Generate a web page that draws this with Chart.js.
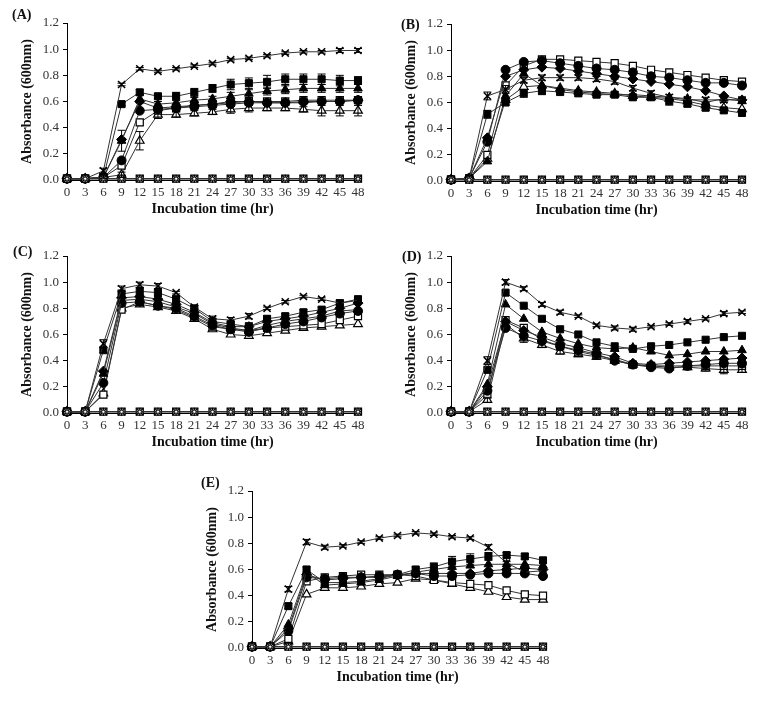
<!DOCTYPE html>
<html>
<head>
<meta charset="utf-8">
<script src="https://cdn.jsdelivr.net/npm/chart.js@4.4.1/dist/chart.umd.min.js"></script>
<style>
  body { margin: 0; background: #fff; }
  #page { position: relative; width: 765px; height: 703px; background: #fff; overflow: hidden; }
  canvas { position: absolute; }
  .lbl { position: absolute; font: bold 14px 'Liberation Serif', serif; color: #111; line-height: 14px; }
</style>
</head>
<body>
<div id="page">
  <canvas id="chartA" width="380" height="230" style="left:0px;top:0px"></canvas>
  <canvas id="chartB" width="380" height="230" style="left:384px;top:1px"></canvas>
  <canvas id="chartC" width="380" height="230" style="left:0px;top:233px"></canvas>
  <canvas id="chartD" width="380" height="230" style="left:384px;top:233px"></canvas>
  <canvas id="chartE" width="380" height="230" style="left:185px;top:468px"></canvas>
  <div class="lbl" style="left:12px;top:8px">(A)</div>
  <div class="lbl" style="left:401px;top:18px">(B)</div>
  <div class="lbl" style="left:13px;top:245px">(C)</div>
  <div class="lbl" style="left:402px;top:250px">(D)</div>
  <div class="lbl" style="left:201px;top:476px">(E)</div>
</div>
<script>
let hours = ['0', '3', '6', '9', '12', '15', '18', '21', '24', '27', '30', '33', '36', '39', '42', '45', '48'];
let yTicks = [0, 0.2, 0.4, 0.6, 0.8, 1.0, 1.2];

// control lines sitting on the baseline in every panel
let zeroLine = [0.01, 0.01, 0.01, 0.01, 0.01, 0.01, 0.01, 0.01, 0.01, 0.01, 0.01, 0.01, 0.01, 0.01, 0.01, 0.01, 0.01];

// (A)
let aCross = [0.01, 0.01, 0.07, 0.73, 0.85, 0.83, 0.85, 0.87, 0.89, 0.92, 0.93, 0.95, 0.97, 0.98, 0.98, 0.99, 0.99];
let aSquare = [0.01, 0.01, 0.02, 0.58, 0.67, 0.64, 0.64, 0.67, 0.70, 0.73, 0.74, 0.75, 0.77, 0.77, 0.77, 0.76, 0.76];
let aTriangle = [0.01, 0.01, 0.02, 0.30, 0.62, 0.58, 0.59, 0.61, 0.62, 0.64, 0.66, 0.68, 0.69, 0.70, 0.70, 0.70, 0.70];
let aDiamond = [0.01, 0.01, 0.02, 0.31, 0.60, 0.55, 0.56, 0.57, 0.58, 0.60, 0.60, 0.59, 0.59, 0.59, 0.60, 0.60, 0.61];
let aCircle = [0.01, 0.01, 0.02, 0.15, 0.53, 0.54, 0.55, 0.56, 0.57, 0.58, 0.59, 0.59, 0.59, 0.60, 0.60, 0.60, 0.61];
let aOpenSquare = [0.01, 0.01, 0.02, 0.11, 0.44, 0.53, 0.55, 0.57, 0.58, 0.59, 0.60, 0.60, 0.60, 0.61, 0.61, 0.61, 0.61];
let aOpenTriangle = [0.01, 0.01, 0.02, 0.04, 0.30, 0.50, 0.50, 0.51, 0.52, 0.54, 0.55, 0.55, 0.55, 0.54, 0.53, 0.53, 0.53];
let aCrossErr = [0, 0, 0.02, 0.01, 0.01, 0.01, 0.01, 0.01, 0.01, 0.01, 0.01, 0.01, 0.01, 0.01, 0.01, 0.015, 0.015];
let aSquareErr = [0, 0, 0, 0.01, 0.02, 0.02, 0.03, 0.03, 0.03, 0.04, 0.04, 0.05, 0.04, 0.04, 0.04, 0.04, 0.03];
let aTriangleErr = [0, 0, 0, 0.08, 0.03, 0.02, 0.02, 0.02, 0.02, 0.03, 0.03, 0.03, 0.03, 0.03, 0.03, 0.03, 0.03];
let aOpenTriangleErr = [0, 0, 0.01, 0.02, 0.07, 0.03, 0.02, 0.02, 0.02, 0.03, 0.03, 0.02, 0.02, 0.02, 0.04, 0.04, 0.04];

// (B)
let bCross = [0.01, 0.02, 0.65, 0.70, 0.77, 0.79, 0.79, 0.79, 0.78, 0.76, 0.71, 0.67, 0.64, 0.62, 0.62, 0.62, 0.62];
let bSquare = [0.01, 0.02, 0.51, 0.60, 0.67, 0.69, 0.68, 0.67, 0.66, 0.66, 0.64, 0.64, 0.61, 0.59, 0.56, 0.54, 0.52];
let bTriangle = [0.01, 0.02, 0.15, 0.65, 0.82, 0.73, 0.70, 0.68, 0.67, 0.66, 0.66, 0.65, 0.64, 0.63, 0.60, 0.63, 0.61];
let bDiamond = [0.01, 0.02, 0.33, 0.80, 0.85, 0.87, 0.86, 0.84, 0.82, 0.80, 0.78, 0.76, 0.74, 0.72, 0.69, 0.65, 0.62];
let bCircle = [0.01, 0.02, 0.30, 0.85, 0.91, 0.92, 0.90, 0.88, 0.86, 0.85, 0.83, 0.80, 0.79, 0.77, 0.75, 0.75, 0.73];
let bOpenSquare = [0.01, 0.02, 0.20, 0.73, 0.88, 0.93, 0.93, 0.92, 0.91, 0.90, 0.88, 0.85, 0.83, 0.81, 0.79, 0.77, 0.76];
let bOpenTriangle = [0.01, 0.02, 0.17, 0.62, 0.72, 0.73, 0.71, 0.69, 0.68, 0.67, 0.65, 0.64, 0.63, 0.61, 0.58, 0.56, 0.55];
let bCrossErr = [0, 0, 0.03, 0.03, 0.02, 0.02, 0.02, 0.02, 0.02, 0.02, 0.02, 0.02, 0.02, 0.02, 0.02, 0.02, 0.02];
let bSquareErr = [0, 0, 0.03, 0.02, 0.03, 0.03, 0.02, 0.02, 0.02, 0.02, 0.02, 0.02, 0.03, 0.02, 0.02, 0.02, 0.01];

// (C)
let cCross = [0.01, 0.01, 0.53, 0.95, 0.98, 0.97, 0.92, 0.81, 0.72, 0.71, 0.74, 0.80, 0.85, 0.89, 0.87, 0.84, 0.86];
let cSquare = [0.01, 0.01, 0.48, 0.91, 0.93, 0.92, 0.87, 0.80, 0.70, 0.68, 0.66, 0.72, 0.74, 0.77, 0.79, 0.84, 0.87];
let cTriangle = [0.01, 0.01, 0.30, 0.86, 0.87, 0.85, 0.81, 0.76, 0.68, 0.65, 0.63, 0.67, 0.70, 0.72, 0.74, 0.78, 0.79];
let cDiamond = [0.01, 0.01, 0.32, 0.88, 0.89, 0.87, 0.83, 0.77, 0.69, 0.66, 0.66, 0.70, 0.72, 0.74, 0.77, 0.80, 0.84];
let cCircle = [0.01, 0.01, 0.23, 0.84, 0.85, 0.82, 0.80, 0.74, 0.67, 0.64, 0.62, 0.65, 0.68, 0.70, 0.73, 0.76, 0.78];
let cOpenSquare = [0.01, 0.01, 0.14, 0.79, 0.85, 0.82, 0.79, 0.73, 0.66, 0.64, 0.63, 0.65, 0.66, 0.67, 0.68, 0.71, 0.74];
let cOpenTriangle = [0.01, 0.01, 0.15, 0.80, 0.83, 0.81, 0.78, 0.72, 0.64, 0.60, 0.59, 0.61, 0.63, 0.65, 0.66, 0.67, 0.68];
let cCrossErr = [0, 0, 0.03, 0.02, 0.02, 0.02, 0.01, 0.01, 0.02, 0.02, 0.02, 0.01, 0.01, 0.01, 0.01, 0.01, 0.01];
let cSquareErr = [0, 0, 0.02, 0.03, 0.03, 0.03, 0.02, 0.02, 0.02, 0.02, 0.03, 0.02, 0.02, 0.02, 0.02, 0.02, 0.02];

// (D)
let dCross = [0.01, 0.01, 0.40, 1.00, 0.95, 0.83, 0.77, 0.74, 0.67, 0.65, 0.64, 0.66, 0.68, 0.70, 0.72, 0.76, 0.77];
let dSquare = [0.01, 0.01, 0.33, 0.92, 0.82, 0.72, 0.64, 0.60, 0.54, 0.51, 0.49, 0.51, 0.52, 0.54, 0.56, 0.58, 0.59];
let dTriangle = [0.01, 0.01, 0.22, 0.83, 0.72, 0.62, 0.57, 0.53, 0.50, 0.49, 0.50, 0.47, 0.44, 0.45, 0.47, 0.47, 0.48];
let dDiamond = [0.01, 0.01, 0.20, 0.70, 0.63, 0.58, 0.53, 0.50, 0.46, 0.43, 0.38, 0.37, 0.38, 0.39, 0.40, 0.41, 0.42];
let dCircle = [0.01, 0.01, 0.17, 0.65, 0.59, 0.55, 0.51, 0.48, 0.45, 0.40, 0.37, 0.35, 0.34, 0.36, 0.37, 0.38, 0.38];
let dOpenSquare = [0.01, 0.01, 0.14, 0.71, 0.65, 0.56, 0.51, 0.47, 0.44, 0.41, 0.37, 0.36, 0.36, 0.36, 0.36, 0.36, 0.36];
let dOpenTriangle = [0.01, 0.01, 0.10, 0.68, 0.57, 0.52, 0.47, 0.45, 0.43, 0.40, 0.37, 0.36, 0.35, 0.35, 0.34, 0.33, 0.33];
let dCrossErr = [0, 0, 0.03, 0.02, 0.015, 0.015, 0.015, 0.01, 0.01, 0.015, 0.015, 0.01, 0.01, 0.015, 0.01, 0.015, 0.01];
let dOpenTriangleErr = [0, 0, 0.02, 0.02, 0.03, 0.02, 0.02, 0.02, 0.02, 0.02, 0.02, 0.02, 0.02, 0.02, 0.02, 0.03, 0.02];

// (E)
let eCross = [0.01, 0.01, 0.45, 0.81, 0.77, 0.78, 0.81, 0.84, 0.86, 0.88, 0.87, 0.85, 0.84, 0.77, 0.65, 0.58, 0.59];
let eSquare = [0.01, 0.01, 0.32, 0.60, 0.50, 0.50, 0.51, 0.53, 0.56, 0.60, 0.62, 0.66, 0.68, 0.70, 0.71, 0.70, 0.67];
let eTriangle = [0.01, 0.01, 0.18, 0.58, 0.48, 0.49, 0.50, 0.52, 0.55, 0.58, 0.60, 0.62, 0.63, 0.64, 0.64, 0.64, 0.63];
let eDiamond = [0.01, 0.01, 0.15, 0.56, 0.52, 0.53, 0.54, 0.54, 0.56, 0.57, 0.57, 0.57, 0.57, 0.59, 0.60, 0.61, 0.60];
let eCircle = [0.01, 0.01, 0.13, 0.54, 0.53, 0.54, 0.54, 0.55, 0.56, 0.57, 0.55, 0.55, 0.56, 0.57, 0.57, 0.57, 0.55];
let eOpenSquare = [0.01, 0.01, 0.07, 0.51, 0.54, 0.55, 0.56, 0.56, 0.56, 0.55, 0.52, 0.50, 0.49, 0.48, 0.44, 0.41, 0.40];
let eOpenTriangle = [0.01, 0.01, 0.05, 0.41, 0.46, 0.46, 0.47, 0.49, 0.50, 0.53, 0.52, 0.49, 0.46, 0.43, 0.39, 0.37, 0.37];
let eCrossErr = [0, 0, 0.02, 0.02, 0.015, 0.01, 0.01, 0.01, 0.01, 0.01, 0.01, 0.01, 0.01, 0.02, 0.01, 0.01, 0.01];
let eSquareErr = [0, 0, 0.02, 0.02, 0.02, 0.02, 0.02, 0.02, 0.02, 0.02, 0.03, 0.04, 0.04, 0.03, 0.02, 0.02, 0.02];

// marker looks
let markers = {
    cross: { pointStyle: 'crossRot', pointRadius: 5, pointBackgroundColor: '#000', pointBorderWidth: 1.5 },
    square: { pointStyle: 'rect', pointRadius: 5, pointBackgroundColor: '#000', pointBorderWidth: 1 },
    triangle: { pointStyle: 'triangle', pointRadius: 5, pointBackgroundColor: '#000', pointBorderWidth: 1 },
    diamond: { pointStyle: 'rectRot', pointRadius: 5, pointBackgroundColor: '#000', pointBorderWidth: 1 },
    circle: { pointStyle: 'circle', pointRadius: 4.5, pointBackgroundColor: '#000', pointBorderWidth: 1 },
    openSquare: { pointStyle: 'rect', pointRadius: 5, pointBackgroundColor: '#fff', pointBorderWidth: 1.2 },
    openTriangle: { pointStyle: 'triangle', pointRadius: 5, pointBackgroundColor: '#fff', pointBorderWidth: 1.2 },
    zeroBox: { pointStyle: 'rect', pointRadius: 5, pointBackgroundColor: '#bbb', pointBorderWidth: 1.2 },
    zeroX: { pointStyle: 'crossRot', pointRadius: 5, pointBackgroundColor: '#000', pointBorderWidth: 1.2 },
    zeroPlus: { pointStyle: 'cross', pointRadius: 4, pointBackgroundColor: '#000', pointBorderWidth: 1.2 },
    zeroDot: { pointStyle: 'circle', pointRadius: 1.5, pointBackgroundColor: '#fff', pointBorderWidth: 0.5 }
};

function makeSet(values, look, errors) {
    return Object.assign({
        data: values,
        errors: errors || null,
        borderColor: '#333',
        borderWidth: 1,
        pointBorderColor: '#000',
        tension: 0,
        clip: false
    }, markers[look]);
}

// vertical error bars with caps, placed through the chart's own scales
let errorBars = {
    id: 'errorBars',
    afterDatasetsDraw(chart) {
        let c = chart.ctx, ys = chart.scales.y;
        c.save();
        c.strokeStyle = '#000';
        c.lineWidth = 1;
        chart.data.datasets.forEach((ds, i) => {
            if (!ds.errors) return;
            chart.getDatasetMeta(i).data.forEach((pt, j) => {
                let e = ds.errors[j];
                if (!e) return;
                let top = ys.getPixelForValue(ds.data[j] + e);
                let bot = ys.getPixelForValue(ds.data[j] - e);
                c.beginPath();
                c.moveTo(pt.x, top); c.lineTo(pt.x, bot);
                c.moveTo(pt.x - 4, top); c.lineTo(pt.x + 4, top);
                c.moveTo(pt.x - 4, bot); c.lineTo(pt.x + 4, bot);
                c.stroke();
            });
        });
        c.restore();
    }
};

function makeChart(id, series, errs) {
    let ctx = document.getElementById(id).getContext('2d');
    // first dataset is drawn on top
    let sets = [
        makeSet(zeroLine, 'zeroDot'),
        makeSet(zeroLine, 'zeroPlus'),
        makeSet(zeroLine, 'zeroX'),
        makeSet(zeroLine, 'zeroBox'),
        makeSet(series[0], 'cross', errs[0]),
        makeSet(series[1], 'square', errs[1]),
        makeSet(series[2], 'triangle', errs[2]),
        makeSet(series[3], 'diamond', errs[3]),
        makeSet(series[4], 'circle', errs[4]),
        makeSet(series[5], 'openSquare', errs[5]),
        makeSet(series[6], 'openTriangle', errs[6])
    ];
    return new Chart(ctx, {
        type: 'line',
        data: { labels: hours, datasets: sets },
        plugins: [errorBars],
        options: {
            responsive: false,
            animation: false,
            layout: { padding: { left: 0, top: 23, right: 22, bottom: 0 } },
            plugins: { legend: { display: false }, tooltip: { enabled: false } },
            scales: {
                x: {
                    type: 'category',
                    offset: false,
                    grid: { display: false, drawTicks: false },
                    border: { display: true, color: '#000', width: 1 },
                    ticks: {
                        autoSkip: false, maxRotation: 0, padding: 5,
                        color: '#333', font: { family: "'Liberation Serif', serif", size: 13 }
                    },
                    title: {
                        display: true, text: 'Incubation time (hr)', color: '#111',
                        font: { family: "'Liberation Serif', serif", size: 14, weight: 'bold' },
                        padding: { bottom: 12 }
                    },
                    afterFit: function (s) { s.height = 50; s.paddingLeft = 0; s.paddingRight = 0; }
                },
                y: {
                    min: 0, max: 1.2,
                    afterBuildTicks: function (s) { s.ticks = yTicks.map(v => ({ value: v })); },
                    grid: { display: true, drawOnChartArea: false, drawTicks: true, tickLength: 4, color: '#000' },
                    border: { display: true, color: '#000', width: 1 },
                    ticks: {
                        padding: 4, color: '#333',
                        font: { family: "'Liberation Serif', serif", size: 13 },
                        callback: v => Number(v).toFixed(1)
                    },
                    title: {
                        display: true, text: 'Absorbance (600nm)', color: '#111',
                        font: { family: "'Liberation Serif', serif", size: 14, weight: 'bold' },
                        padding: { top: 19 }
                    },
                    afterFit: function (s) { s.width = 67; s.paddingTop = 0; s.paddingBottom = 0; }
                }
            }
        }
    });
}

makeChart('chartA', [aCross, aSquare, aTriangle, aDiamond, aCircle, aOpenSquare, aOpenTriangle],
    [aCrossErr, aSquareErr, aTriangleErr, null, null, null, aOpenTriangleErr]);
makeChart('chartB', [bCross, bSquare, bTriangle, bDiamond, bCircle, bOpenSquare, bOpenTriangle],
    [bCrossErr, bSquareErr, null, null, null, null, null]);
makeChart('chartC', [cCross, cSquare, cTriangle, cDiamond, cCircle, cOpenSquare, cOpenTriangle],
    [cCrossErr, cSquareErr, null, null, null, null, null]);
makeChart('chartD', [dCross, dSquare, dTriangle, dDiamond, dCircle, dOpenSquare, dOpenTriangle],
    [dCrossErr, null, null, null, null, null, dOpenTriangleErr]);
makeChart('chartE', [eCross, eSquare, eTriangle, eDiamond, eCircle, eOpenSquare, eOpenTriangle],
    [eCrossErr, eSquareErr, null, null, null, null, null]);
</script>
</body>
</html>
